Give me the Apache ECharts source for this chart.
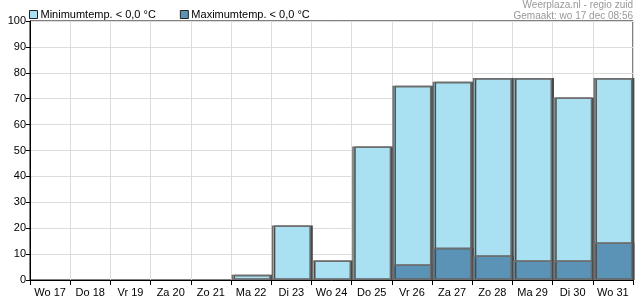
<!DOCTYPE html>
<html>
<head>
<meta charset="utf-8">
<script src="https://cdn.jsdelivr.net/npm/echarts@6/dist/echarts.min.js"></script>
<style>
  html, body { margin: 0; padding: 0; background: #fff; }
  #chart { width: 635px; height: 300px; }
</style>
</head>
<body>
<div id="chart"></div>
<script>
// dagen
var days = ['Wo 17', 'Do 18', 'Vr 19', 'Za 20', 'Zo 21', 'Ma 22', 'Di 23', 'Wo 24',
  'Do 25', 'Vr 26', 'Za 27', 'Zo 28', 'Ma 29', 'Di 30', 'Wo 31'];
// kans (%) minimumtemp. onder nul
var minTemp = [0, 0, 0, 0, 0, 2, 21, 7.5, 51.5, 75, 76.5, 78, 78, 70.5, 78];
// kans (%) maximumtemp. onder nul
var maxTemp = [0, 0, 0, 0, 0, 0, 0, 0, 0, 6, 12.5, 9.5, 7.5, 7.5, 14.5];

var chart = echarts.init(document.getElementById('chart'));
var font = 'Liberation Sans, Arial, sans-serif';

// 0 -> geen balk
var noZero = function (arr) {
  return arr.map(function (v) { return v > 0 ? v : '-'; });
};

var barStyle = function (color) {
  return {
    color: color,
    borderColor: '#6e6e6e',
    borderWidth: 1.5,
    shadowColor: '#4a4a4a',
    shadowOffsetX: 2,
    shadowOffsetY: 0,
    shadowBlur: 0
  };
};

var option = {
  animation: false,
  textStyle: { fontFamily: font },
  graphic: [{
    type: 'text',
    right: 2,
    top: 0,
    style: { text: 'Weerplaza.nl - regio zuid', fill: '#999', fontSize: 10, fontFamily: font }
  }, {
    type: 'text',
    right: 2,
    top: 11,
    style: { text: 'Gemaakt: wo 17 dec 08:56', fill: '#999', fontSize: 10, fontFamily: font }
  }],
  legend: {
    left: 24,
    top: 4,
    icon: 'rect',
    itemWidth: 8,
    itemHeight: 8,
    itemGap: 24,
    textStyle: { fontSize: 11, color: '#000', fontFamily: font, padding: [0, 0, 0, -2] },
    itemStyle: { borderColor: '#222', borderWidth: 1 },
    data: ['Minimumtemp. < 0,0 °C', 'Maximumtemp. < 0,0 °C']
  },
  grid: {
    left: 30,
    right: 2,
    top: 21,
    bottom: 20,
    show: true,
    borderColor: '#000',
    borderWidth: 1
  },
  xAxis: {
    type: 'category',
    data: days,
    axisLine: { lineStyle: { color: '#000', width: 1 } },
    axisTick: { show: true, length: 5, interval: 0, lineStyle: { color: '#000' } },
    axisLabel: { color: '#000', fontSize: 11, margin: 7, interval: 0, fontFamily: font },
    splitLine: { show: true, interval: 0, lineStyle: { color: '#dcdcdc' } }
  },
  yAxis: {
    type: 'value',
    min: 0,
    max: 100,
    interval: 10,
    axisLine: { show: true, lineStyle: { color: '#000', width: 1 } },
    axisTick: { show: true, length: 4, lineStyle: { color: '#000' } },
    axisLabel: { color: '#000', fontSize: 11, margin: 4, fontFamily: font },
    splitLine: { show: true, lineStyle: { color: '#dcdcdc' } }
  },
  series: [{
    name: 'Minimumtemp. < 0,0 °C',
    type: 'bar',
    data: noZero(minTemp),
    barCategoryGap: '3%',
    barGap: '-100%',
    itemStyle: barStyle('#a9e1f2')
  }, {
    name: 'Maximumtemp. < 0,0 °C',
    type: 'bar',
    data: noZero(maxTemp),
    barCategoryGap: '3%',
    barGap: '-100%',
    itemStyle: barStyle('#5b93b6')
  }]
};

chart.setOption(option);
</script>
</body>
</html>
